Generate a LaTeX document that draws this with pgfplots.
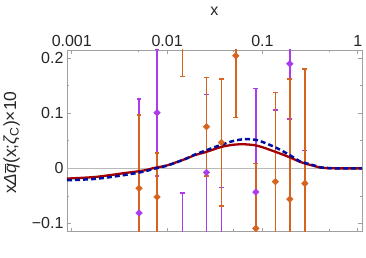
\documentclass[border=0pt]{standalone}
\usepackage{fontspec}
\setmainfont{Liberation Sans}
\usepackage{pgfplots}
\pgfplotsset{compat=1.18}
\definecolor{pur}{RGB}{170,60,235}
\definecolor{ora}{RGB}{215,100,30}
\definecolor{dred}{RGB}{165,0,0}
\definecolor{dblue}{RGB}{0,15,160}
\definecolor{framec}{RGB}{160,160,160}
\definecolor{zeroc}{RGB}{185,185,185}

\pgfplotstableread{
x y e
0.00508 -0.081 0.207
0.00785 0.101 0.115
0.0145 -0.160 0.115
0.0259 -0.0073 0.141
0.0372 -0.160 0.125
0.0853 -0.043 0.188
0.137 -0.150 0.256
0.194 0.190 0.100
0.279 -0.160 0.193
}\purdata

\pgfplotstableread{
x y e
0.00508 -0.036 0.133
0.00785 -0.052 0.080
0.0145 0.280 0.113
0.0259 0.0757 0.0895
0.0372 0.047 0.115
0.0526 0.2045 0.112
0.0853 -0.109 0.118
0.137 -0.024 0.162
0.194 -0.0558 0.218
0.279 -0.0273 0.208
}\oradata

\begin{document}
\begin{tikzpicture}
\begin{axis}[
 scale only axis, width=295pt, height=181.7pt,
 xmode=log, xmin=0.000891, xmax=1.109, ymin=-0.115, ymax=0.215,
 xtick={0.001,0.01,0.1,1}, xticklabels={0.001,0.01,0.1,1},
 minor xtick={0.005,0.05,0.5},
 ytick={-0.1,0,0.1,0.2}, yticklabels={−0.1,0,0.1,0.2},
 minor ytick={-0.05,0.05,0.15},
 xtick pos=both, ytick pos=both, xticklabel pos=top, yticklabel pos=left,
 tick align=inside,
 major tick length=4pt, minor tick length=2.5pt,
 every tick/.append style={framec, line width=0.8pt},
 axis line style={framec, line width=0.9pt},
 tick label style={font=\fontsize{16}{19}\selectfont, text=black!85},
 /pgf/number format/assume math mode=true,
 xlabel={x},
 xlabel style={at={(axis description cs:0.5,1.211)}, anchor=center, font=\fontsize{16}{19}\selectfont, text=black!85},
 ylabel={x{\itshape Δ}$\overline{\mbox{\itshape q}}$(x;{\itshape ζ}\textsubscript{C})×10},
 ylabel style={at={(axis description cs:-0.188,0.49)}, anchor=center, font=\fontsize{17.5}{20}\selectfont, text=black!85},
 clip=true,
]
\addplot[zeroc, line width=0.7pt, forget plot] coordinates {(0.0008,0) (1.3,0)};

\addplot[pur, only marks, mark=square*, mark size=2.3pt, mark options={solid, rotate=45, fill=pur, draw=pur, line width=0.5pt},
  error bars/.cd, y dir=both, y explicit,
  error mark options={pur, line width=1.4pt, mark size=2.4pt, rotate=90},
  error bar style={draw=pur, line width=1.7pt}]
  table[x=x, y=y, y error=e]{\purdata};
\addplot[ora, only marks, mark=square*, mark size=2.3pt, mark options={solid, rotate=45, fill=ora, draw=ora, line width=0.5pt},
  error bars/.cd, y dir=both, y explicit,
  error mark options={ora, line width=1.4pt, mark size=2.4pt, rotate=90},
  error bar style={draw=ora, line width=1.7pt}]
  table[x=x, y=y, y error=e]{\oradata};

\addplot[dred, line width=2.3pt, smooth, tension=0.5] coordinates {
(0.000891,-0.0185) (0.001778,-0.0155) (0.003597,-0.0085) (0.005623,-0.004)
(0.007413,0.001) (0.01,0.0055) (0.01549,0.017) (0.0195,0.024)
(0.02588,0.030) (0.03715,0.039) (0.05012,0.043) (0.06531,0.0437)
(0.08913,0.041) (0.1374,0.030) (0.1941,0.020) (0.2460,0.012)
(0.2780,0.009) (0.3548,0.004) (0.4027,0.0015) (0.5012,0.0003)
(0.631,0.0) (1.109,0)};
\addplot[dblue, line width=2.5pt, dash pattern=on 5pt off 3pt, smooth, tension=0.5] coordinates {
(0.000891,-0.0215) (0.001778,-0.019) (0.003597,-0.012) (0.005623,-0.006)
(0.007586,0.0) (0.01,0.005) (0.01549,0.017) (0.0195,0.025)
(0.02588,0.033) (0.03715,0.043) (0.05012,0.050) (0.06531,0.053)
(0.08913,0.051) (0.1374,0.038) (0.1941,0.024) (0.2460,0.013)
(0.2780,0.010) (0.3548,0.005) (0.4027,0.002) (0.5012,0.0005)
(0.631,0.0) (1.109,0)};
\end{axis}
\pgfresetboundingbox
\path[use as bounding box] ([shift={(-67pt,-25.3pt)}]current axis.south west) rectangle ++(366pt,257pt);
\end{tikzpicture}
\end{document}
